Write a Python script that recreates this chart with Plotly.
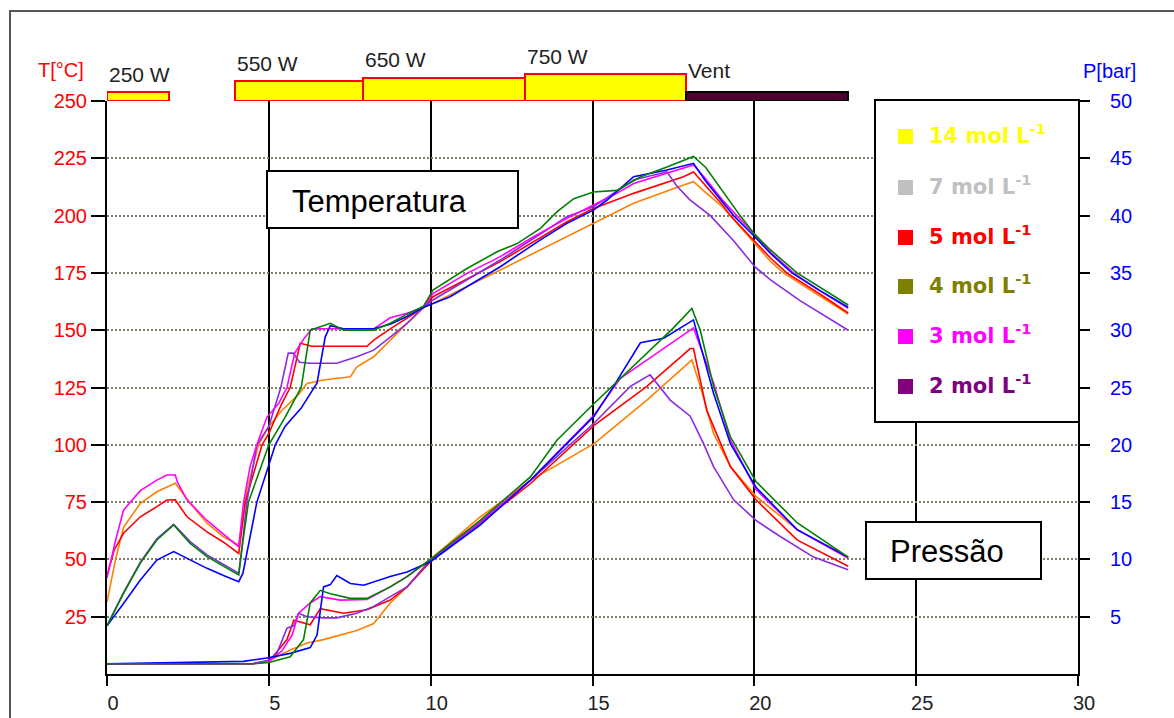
import plotly.graph_objects as go

# ---------------- microwave heating programme (time in min) ----------------
stage_start = [0.0, 3.95, 7.9, 12.9]
stage_end = [1.9, 7.9, 12.9, 17.9]
stage_power = [250, 550, 650, 750]          # W
stage_label = ["250 W", "550 W", "650 W", "750 W"]
vent_start = [17.9]
vent_end = [22.9]
vent_bar_height = [250]
vent_label = "Vent"

# ---------------- temperature curves, T [°C] ----------------
t_T_orange = [0, 0.26, 0.51, 1.03, 1.54, 2.11, 2.57, 3.09, 3.6, 4.07, 4.17, 4.32, 4.68, 5.0, 5.4, 5.92, 6.18,
              6.69, 7.52, 7.72, 8.24, 8.75, 9.27, 9.78, 10.07, 12.15, 14.21, 15.03, 16.27, 17.81, 18.12, 18.5,
              19.0, 19.26, 20.0, 20.5, 20.9, 22.0, 22.9]
T_orange = [31.5, 49.7, 64, 74.5, 79.5, 83.2, 74.5, 65.8, 59.9, 56.3, 65, 80, 100, 108, 115, 122, 126.8,
            128.3, 129.7, 134, 138.4, 145.7, 153, 159.8, 161.7, 176.3, 190.8, 196.6, 205.4, 213.4, 214.8, 210,
            204, 200, 188, 180, 175, 165, 157]

t_T_magenta = [0, 0.05, 0.26, 0.51, 1.03, 1.54, 1.85, 2.11, 2.18, 2.47, 3.09, 3.6, 4.07, 4.22, 4.42, 4.63, 4.94,
               5.3, 5.56, 5.8, 6.07, 6.33, 7.1, 8.24, 8.75, 9.27, 9.78, 10.07, 11.12, 12.15, 13.18, 14.21, 15.03,
               15.75, 16.27, 17.3, 17.81, 18.12, 18.5, 19.0, 19.46, 20.0, 20.5, 21.21, 22.0, 22.9]
T_magenta = [42, 45, 58, 71.5, 80, 84.6, 86.8, 86.8, 83.6, 76, 67, 61, 55.5, 75, 90.5, 100, 112,
             118, 125, 140, 146, 150.6, 150.6, 150.6, 155.4, 157.4, 160, 166, 174.8, 182.1, 190.8, 198.8, 204.6,
             209.7, 214, 218.4, 220.6, 222.1, 216, 207, 200, 192, 184, 175, 167.5, 159.5]

t_T_red = [0, 0.22, 0.51, 1.03, 1.54, 1.85, 2.11, 2.47, 3.09, 3.6, 4.07, 4.27, 4.79, 5.0, 5.4, 5.66, 5.97, 6.33,
           8.03, 8.24, 8.75, 9.27, 9.78, 10.07, 12.15, 14.21, 15.03, 16.27, 17.81, 18.12, 18.5, 19.0, 19.26,
           20.0, 20.5, 21.0, 22.0, 22.9]
T_red = [43, 54, 61.4, 68.6, 73, 75.9, 76, 68.6, 62, 57.5, 52.6, 75, 100, 105, 118, 125, 144.3, 143,
         143, 145.7, 150.6, 155.4, 159.8, 164.6, 179.9, 197.3, 203.1, 209.7, 217, 219, 213, 205, 200,
         189, 181.5, 175, 166, 157.5]

t_T_green = [0, 0.51, 1.03, 1.54, 2.06, 2.57, 3.09, 3.6, 4.07, 4.17, 4.37, 5.0, 5.5, 6.0, 6.28, 6.9, 7.31, 8.24,
             8.75, 9.27, 9.78, 10.07, 11.12, 12.05, 12.67, 13.39, 13.9, 14.42, 15.03, 15.75, 16.47, 17.3, 17.91,
             18.12, 18.5, 19.0, 19.56, 20.0, 20.5, 21.32, 22.0, 22.9]
T_green = [21, 35.2, 48.4, 58.5, 65, 57, 51.2, 47, 43.2, 55, 75, 100, 112, 125, 150, 153, 150, 150,
           153, 157, 160.5, 167.5, 176.9, 184.2, 187.8, 194.4, 201.6, 207.4, 210.3, 211, 216.8, 221.2, 224.8,
           225.8, 221, 211, 200, 192, 185, 175, 169, 161]

t_T_blue = [0, 0.2, 0.51, 1.03, 1.54, 2.06, 2.57, 3.09, 3.6, 4.07, 4.2, 4.63, 5.2, 5.5, 6.0, 6.49, 6.74, 6.9,
            7.31, 8.24, 8.75, 9.27, 9.78, 10.07, 10.6, 12.15, 13.39, 14.21, 15.03, 15.45, 16.27, 17.3, 18.12,
            18.5, 19.0, 19.36, 20.0, 20.5, 21.16, 22.0, 22.9]
T_blue = [21, 25, 30.8, 41, 49.7, 53.4, 49.7, 46.1, 43, 40.3, 44, 75, 100, 108, 116, 127, 147, 152,
          150.6, 150.6, 152.6, 156, 160, 161.7, 164.6, 177.7, 189.4, 196.6, 202.4, 206.8, 217, 219.9, 222.8,
          215, 206, 200, 191, 183.5, 175, 167.5, 160]

t_T_violet = [0, 0.51, 1.03, 1.54, 2.06, 2.57, 3.09, 3.6, 4.07, 4.17, 4.32, 4.63, 5.0, 5.37, 5.6, 5.75, 5.95,
              6.28, 7.1, 7.72, 8.24, 8.75, 9.27, 9.78, 10.07, 12.15, 14.21, 15.03, 16.27, 17.3, 17.6, 18.0,
              18.64, 19.36, 20.03, 20.5, 21.4, 22.9]
T_violet = [21, 35.5, 48.8, 59, 65.3, 57.8, 52, 48, 44, 55, 75, 100, 108, 125, 140, 140, 136,
            135.6, 135.6, 138.4, 141.3, 147, 153, 160, 163.2, 180.6, 199.5, 203.9, 215.5, 219.1, 213, 207,
            200, 189, 177.5, 172, 163, 150]

# ---------------- pressure curves, P [bar] ----------------
t_P_orange = [0, 4.5, 5.04, 5.66, 6.18, 6.69, 7.72, 8.24, 8.75, 9.27, 9.99, 11.53, 13.08, 15.05, 16.68,
              18.07, 18.33, 18.74, 19.26, 20.05, 21.32, 22.9]
P_orange = [0.9, 0.9, 1.2, 2.1, 2.7, 3.0, 3.8, 4.4, 6.2, 7.6, 10.0, 13.7, 16.9, 20.1, 23.9,
            27.4, 25.1, 21, 18.1, 15.5, 12.6, 10.2]

t_P_magenta = [0, 4.5, 5.0, 5.4, 5.72, 5.92, 6.28, 6.59, 7.21, 8.03, 8.75, 9.27, 9.99, 11.53, 13.08, 15.05,
               15.86, 16.68, 18.12, 18.74, 19.26, 20.05, 21.32, 22.9]
P_magenta = [0.9, 0.9, 1.1, 2.0, 3.4, 5.3, 6.2, 6.75, 6.45, 6.5, 7.6, 8.5, 10.0, 13.3, 16.9, 22.6,
             25.8, 27.4, 30.2, 25.4, 20.4, 16.1, 12.6, 10.1]

t_P_red = [0, 4.5, 5.0, 5.56, 5.77, 6.07, 6.28, 6.59, 7.31, 8.03, 8.75, 9.27, 9.99, 11.53, 13.08, 15.05,
           16.68, 18.02, 18.12, 18.53, 19.26, 20.05, 21.32, 22.9]
P_red = [0.9, 0.9, 1.1, 3.0, 4.7, 4.5, 4.3, 5.7, 5.3, 5.6, 6.45, 7.6, 9.8, 13.2, 16.6, 21.7,
         25.1, 28.4, 28.4, 23, 18.1, 15.2, 11.7, 9.4]

t_P_green = [0, 4.5, 5.0, 5.66, 6.07, 6.28, 6.59, 6.9, 7.52, 8.03, 8.75, 9.27, 9.99, 11.53, 13.08, 13.9,
             15.05, 16.68, 17.5, 18.07, 18.33, 18.74, 19.26, 20.05, 21.32, 22.9]
P_green = [0.9, 0.9, 1.0, 1.5, 3.0, 6.2, 7.3, 7.0, 6.6, 6.6, 7.6, 8.5, 10.0, 13.4, 17.2, 20.4,
           23.6, 28.0, 30.2, 31.9, 30, 25.1, 20.7, 16.8, 13.2, 10.2]

t_P_blue = [0, 4.22, 4.94, 5.66, 6.28, 6.49, 6.69, 6.9, 7.1, 7.52, 7.93, 8.75, 9.27, 9.99, 11.53, 13.08,
            15.05, 15.65, 16.48, 17.2, 18.12, 18.74, 19.26, 20.05, 21.32, 22.9]
P_blue = [0.9, 1.1, 1.4, 1.8, 2.3, 3.4, 7.6, 7.8, 8.6, 7.9, 7.75, 8.5, 8.9, 9.8, 13.0, 16.9,
          22.5, 25.1, 28.9, 29.3, 30.9, 24.5, 20.1, 16.3, 12.6, 10.2]

t_P_violet = [0, 4.5, 5.0, 5.25, 5.56, 5.77, 5.92, 6.18, 6.69, 7.1, 7.72, 8.24, 8.75, 9.27, 9.99, 11.53,
              13.08, 15.05, 16.17, 16.78, 17.4, 18.02, 18.43, 18.74, 19.36, 20.05, 20.8, 21.83, 22.9]
P_violet = [0.9, 0.9, 1.2, 1.8, 4.0, 4.2, 5.3, 5.0, 4.9, 4.9, 5.3, 5.9, 6.75, 7.6, 9.95, 13.1,
            16.9, 21.9, 25.1, 26.1, 23.9, 22.5, 20.1, 18.1, 15.2, 13.4, 12.0, 10.2, 9.1]

# ---------------- legend entries ----------------
legend_labels = ["14 mol L<sup>-1</sup>", "7 mol L<sup>-1</sup>", "5 mol L<sup>-1</sup>",
                 "4 mol L<sup>-1</sup>", "3 mol L<sup>-1</sup>", "2 mol L<sup>-1</sup>"]
legend_colors = ["#FFFF00", "#C0C0C0", "#FF0000", "#808000", "#FF00FF", "#800080"]

T_ticks = list(range(25, 251, 25))
P_ticks = list(range(5, 51, 5))
t_ticks = list(range(0, 31, 5))

# ---------------- figure geometry (pixels) ----------------
W, H = 1174, 718
ML, MR, MT, MB = 107, 96, 60, 44
PW = W - ML - MR
PH = H - MT - MB
TOP_MAIN = 101  # pixel row of the 250 °C line


def px(xp):
    return (xp - ML) / PW


def py(yp):
    return (H - MB - yp) / PH


main_top = py(TOP_MAIN)
FONT = "Liberation Sans, Arial, sans-serif"

line_colors = {
    "orange": "#FF8000",
    "red": "#FF0000",
    "violet": "#8A2BE2",
    "magenta": "#FF00FF",
    "blue": "#0000FF",
    "green": "#008000",
}

fig = go.Figure()

temp_series = {
    "orange": (t_T_orange, T_orange),
    "red": (t_T_red, T_red),
    "violet": (t_T_violet, T_violet),
    "magenta": (t_T_magenta, T_magenta),
    "blue": (t_T_blue, T_blue),
    "green": (t_T_green, T_green),
}
pres_series = {
    "orange": (t_P_orange, P_orange),
    "red": (t_P_red, P_red),
    "violet": (t_P_violet, P_violet),
    "magenta": (t_P_magenta, P_magenta),
    "blue": (t_P_blue, P_blue),
    "green": (t_P_green, P_green),
}

for name, (tx, ty) in temp_series.items():
    fig.add_trace(go.Scatter(x=tx, y=ty, mode="lines", name=name,
                             line=dict(color=line_colors[name], width=1.6),
                             xaxis="x", yaxis="y", showlegend=False))
for name, (tx, ty) in pres_series.items():
    fig.add_trace(go.Scatter(x=tx, y=ty, mode="lines", name=name,
                             line=dict(color=line_colors[name], width=1.6),
                             xaxis="x", yaxis="y2", showlegend=False))

# power programme bars above the plot
fig.add_trace(go.Bar(x=stage_start, y=stage_power, base=0, offset=0,
                     width=[e - s for s, e in zip(stage_start, stage_end)],
                     marker=dict(color="#FFFF00", line=dict(color="#FF0000", width=2)),
                     xaxis="x2", yaxis="y3", showlegend=False))
fig.add_trace(go.Bar(x=vent_start, y=vent_bar_height, base=0, offset=0,
                     width=[e - s for s, e in zip(vent_start, vent_end)],
                     marker=dict(color="#500030", line=dict(color="#000000", width=2)),
                     xaxis="x2", yaxis="y3", showlegend=False))

annotations = []
for s, p, lab in zip(stage_start, stage_power, stage_label):
    annotations.append(dict(x=s, y=p, xref="x2", yref="y3", text=lab, showarrow=False,
                            xanchor="left", yanchor="middle", yshift=18,
                            font=dict(family=FONT, size=21, color="#222222")))
annotations.append(dict(x=vent_start[0], y=vent_bar_height[0], xref="x2", yref="y3", text=vent_label,
                        showarrow=False, xanchor="left", yanchor="middle", yshift=22,
                        font=dict(family=FONT, size=21, color="#222222")))

# axis titles
annotations.append(dict(x=px(86), y=py(70), xref="paper", yref="paper", text="T[°C]", showarrow=False,
                        xanchor="right", yanchor="middle", font=dict(family=FONT, size=20, color="#FF0000")))
annotations.append(dict(x=px(1081), y=py(71), xref="paper", yref="paper", text="P[bar]", showarrow=False,
                        xanchor="left", yanchor="middle", font=dict(family=FONT, size=20, color="#0000FF")))

shapes = []
# outer frame
shapes.append(dict(type="rect", xref="paper", yref="paper", x0=px(10), y0=py(11), x1=px(1200), y1=py(740),
                   line=dict(color="#555555", width=2), fillcolor="rgba(0,0,0,0)", layer="above"))

# label boxes
for (x0, y0, x1, y1), text, tx, ty in [((267, 171, 518, 228), "Temperatura", 290, 201),
                                       ((866, 522, 1041, 579), "Pressão", 888, 551)]:
    shapes.append(dict(type="rect", xref="paper", yref="paper", x0=px(x0), y0=py(y0), x1=px(x1), y1=py(y1),
                       line=dict(color="#000000", width=2), fillcolor="#FFFFFF", layer="above"))
    annotations.append(dict(x=px(tx), y=py(ty), xref="paper", yref="paper", text=text, showarrow=False,
                            xanchor="left", yanchor="middle", font=dict(family=FONT, size=31, color="#000000")))

# legend box
shapes.append(dict(type="rect", xref="paper", yref="paper", x0=px(875), y0=py(100), x1=px(1079), y1=py(422),
                   line=dict(color="#000000", width=2), fillcolor="#FFFFFF", layer="above"))
row_y = [137, 188, 238, 287, 337, 387]
for cy, lab, col in zip(row_y, legend_labels, legend_colors):
    shapes.append(dict(type="rect", xref="paper", yref="paper", x0=px(898), y0=py(cy - 8), x1=px(913),
                       y1=py(cy + 7), line=dict(width=0), fillcolor=col, layer="above"))
    annotations.append(dict(x=px(927), y=py(cy - 3), xref="paper", yref="paper", text=f"<b>{lab}</b>",
                            showarrow=False, xanchor="left", yanchor="middle",
                            font=dict(family="DejaVu Sans, sans-serif", size=21, color=col)))

fig.update_layout(
    template="none",
    width=W, height=H, autosize=False,
    margin=dict(l=ML, r=MR, t=MT, b=MB, pad=0),
    paper_bgcolor="#FFFFFF", plot_bgcolor="#FFFFFF",
    barmode="overlay", bargap=0,
    showlegend=False,
    xaxis=dict(domain=[0, 1], range=[0, 30], anchor="y", tickvals=t_ticks,
               showgrid=True, gridcolor="#000000", gridwidth=2,
               showline=True, linecolor="#000000", linewidth=2, zeroline=False,
               ticks="outside", ticklen=10, tickwidth=2, tickcolor="#000000",
               ticklabelshift=6, tickfont=dict(family=FONT, size=20, color="#222222")),
    yaxis=dict(domain=[0, main_top], range=[0, 250], anchor="x", tickvals=T_ticks,
               showgrid=True, gridcolor="#80806a", gridwidth=2, griddash="2px,2px",
               showline=True, linecolor="#000000", linewidth=2, zeroline=False,
               ticks="outside", ticklen=14, tickwidth=2, tickcolor="#000000",
               tickfont=dict(family=FONT, size=20, color="#FF0000")),
    yaxis2=dict(domain=[0, main_top], range=[0, 50], anchor="x", overlaying="y", side="right",
                tickvals=P_ticks,
                showgrid=False, showline=True, linecolor="#000000", linewidth=2, zeroline=False,
                ticks="outside", ticklen=10, tickwidth=2, tickcolor="#000000", ticklabelstandoff=16,
                tickfont=dict(family=FONT, size=20, color="#0000FF")),
    xaxis2=dict(domain=[0, 1], range=[0, 30], anchor="y3", visible=False, showgrid=False),
    yaxis3=dict(domain=[main_top, 1], range=[0, 1140], anchor="x2", visible=False, showgrid=False),
    shapes=shapes,
    annotations=annotations,
)

fig.write_html("out.html")
